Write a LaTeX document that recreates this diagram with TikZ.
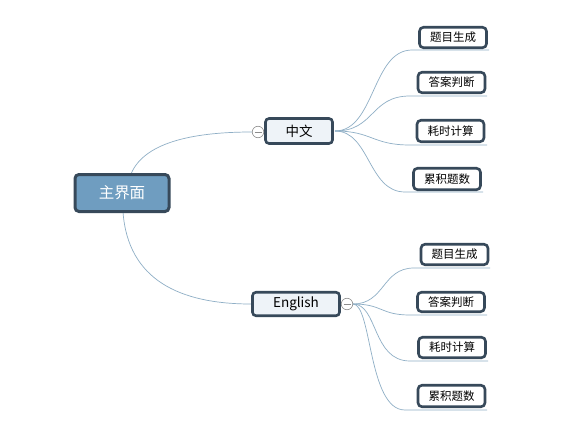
\documentclass[tikz,border=0pt]{standalone}
\usepackage{fontspec}
\setmainfont{Noto Sans CJK SC}
\begin{document}
\begin{tikzpicture}[x=1pt,y=-1pt,
  conn/.style={draw=linkc, line width=0.7pt},
  rootbox/.style={draw=borderc, fill=rootc, line width=3pt, rounded corners=4pt,
    minimum width=94pt, minimum height=37pt, inner sep=0pt, text=white, font=\fontsize{15.5}{18}\selectfont},
  midbox/.style={draw=borderc, fill=midc, line width=2.6pt, rounded corners=3.5pt,
    minimum height=24pt, inner sep=0pt, font=\fontsize{13.5}{16}\selectfont},
  leafbox/.style={draw=borderc, fill=white, line width=2.6pt, rounded corners=4pt,
    minimum width=67pt, minimum height=20.5pt, inner sep=0pt, font=\fontsize{11.5}{13}\selectfont},
  togg/.style={circle, draw=toggc, fill=white, line width=0.6pt, minimum size=11.5pt, inner sep=0pt}
]
\definecolor{linkc}{HTML}{8FAFC6}
\definecolor{borderc}{HTML}{37495A}
\definecolor{rootc}{HTML}{6F9DC0}
\definecolor{midc}{HTML}{EEF3F8}
\definecolor{toggc}{HTML}{8C8C8C}
\useasboundingbox (0,0) rectangle (566,434);
\fill[white] (0,0) rectangle (566,434);

% underline end coordinates
\coordinate (t1s) at (412,50);   \coordinate (t1e) at (489,50);
\coordinate (t2s) at (410,96);   \coordinate (t2e) at (487,96);
\coordinate (t3s) at (410,145);  \coordinate (t3e) at (487,145);
\coordinate (t4s) at (405,192);  \coordinate (t4e) at (483,192);
\coordinate (b1s) at (414,268);  \coordinate (b1e) at (490,268);
\coordinate (b2s) at (410,315);  \coordinate (b2e) at (487,315);
\coordinate (b3s) at (410,361);  \coordinate (b3e) at (488,361);
\coordinate (b4s) at (405,410);  \coordinate (b4e) at (487,410);

% connectors
\coordinate (zs) at (335,131);
\coordinate (es) at (353,304);
\draw[conn] (zs) .. controls (375,131) and (372,50) .. (t1s) -- (t1e);
\draw[conn] (zs) .. controls (375,131) and (370,96) .. (t2s) -- (t2e);
\draw[conn] (zs) .. controls (372,131) and (372,145) .. (t3s) -- (t3e);
\draw[conn] (zs) .. controls (370,131) and (368,192) .. (t4s) -- (t4e);
\draw[conn] (es) .. controls (385,304) and (382,268) .. (b1s) -- (b1e);
\draw[conn] (es) .. controls (383,304) and (380,315) .. (b2s) -- (b2e);
\draw[conn] (es) .. controls (378,304) and (372,361) .. (b3s) -- (b3e);
\draw[conn] (es) .. controls (372,304) and (368,410) .. (b4s) -- (b4e);

\coordinate (rt) at (131,174);
\coordinate (rb) at (123,212);
\coordinate (zl) at (252,132);
\coordinate (el) at (251,304);
\draw[conn] (rt) .. controls (145,140) and (200,132) .. (zl);
\draw[conn] (rb) .. controls (128,280) and (180,304) .. (el);

% nodes
\node[rootbox] (root) at (122,193) {主界面};
\node[midbox, minimum width=67pt, minimum height=25pt] (zh) at (299,131) {中文};
\node[midbox, minimum width=87pt, minimum height=23.5pt] (en) at (296,304) {English};
\node[togg] (tz) at (258,132) {};
\draw[toggc, line width=0.6pt] ([xshift=-3.5pt]tz.center) -- ([xshift=3.5pt]tz.center);
\node[togg] (te) at (347,304) {};
\draw[toggc, line width=0.6pt] ([xshift=-3.5pt]te.center) -- ([xshift=3.5pt]te.center);

\node[leafbox] (l1) at (453,37.5) {题目生成};
\node[leafbox] (l2) at (451.5,82.5) {答案判断};
\node[leafbox, minimum height=21.5pt] (l3) at (450.5,131) {耗时计算};
\node[leafbox, minimum height=21.5pt] (l4) at (447,179) {累积题数};
\node[leafbox] (m1) at (454.5,254.5) {题目生成};
\node[leafbox, minimum height=19.5pt] (m2) at (451,302) {答案判断};
\node[leafbox] (m3) at (452,347.5) {耗时计算};
\node[leafbox, minimum height=21.5pt] (m4) at (451.5,396) {累积题数};
\end{tikzpicture}
\end{document}
